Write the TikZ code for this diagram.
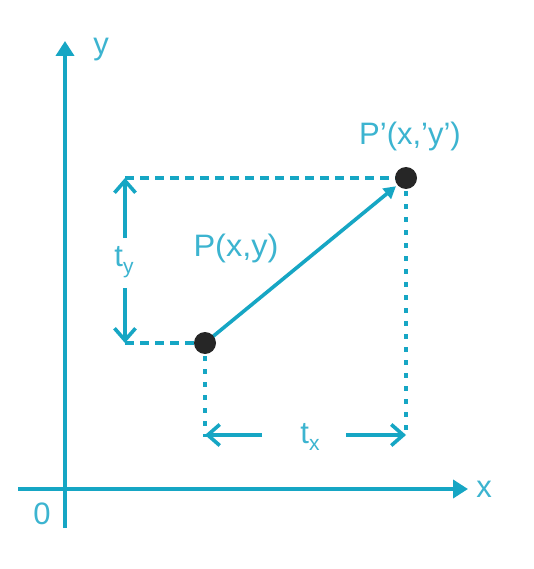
\documentclass[tikz,border=0pt]{standalone}
\usepackage{fontspec}
\setmainfont{Liberation Sans}
\usetikzlibrary{arrows.meta,calc}
\definecolor{cy}{RGB}{22,166,196}
\definecolor{cyt}{RGB}{60,180,208}
\begin{document}
\begin{tikzpicture}[x=1pt,y=-1pt,
  axis/.style={draw=cy,line width=4.4pt,-{Triangle[length=15pt,width=18pt]}},
  dashh/.style={draw=cy,line width=3.6pt,dash pattern=on 9pt off 6pt},
  dotv/.style={draw=cy,line width=3.6pt,dash pattern=on 5pt off 8pt},
  barb/.style={draw=cy,line width=3.6pt,-{Straight Barb[length=12pt,width=21pt,line width=3.6pt]}},
  lbl/.style={text=cyt,font=\fontsize{31}{31}\selectfont,inner sep=0pt},
  pt/.style={circle,fill=black!85,minimum size=22pt,inner sep=0pt}]
\useasboundingbox (0,0) rectangle (534,569);
\fill[white] (0,0) rectangle (534,569);
% axes
\coordinate (ybot) at (65,528);
\coordinate (ytop) at (65,41);
\coordinate (xl) at (18,489);
\coordinate (xr) at (468,489);
\draw[axis] (ybot) -- (ytop);
\draw[axis] (xl) -- (xr);
\node[lbl] (ylab) at (101,50) {y};
\node[lbl] (xlab) at (484,489) {x};
\node[lbl] (zero) at (42,514) {0};
% points
\coordinate (P) at (205,343);
\coordinate (Q) at (406,178);
\coordinate (tyTop) at (125,178);
\coordinate (tyBot) at (125,343);
\coordinate (Pd) at (205,437);
\coordinate (Qd) at (406,437);
\draw[dashh] (tyTop) -- (Q);
\draw[dashh] (tyBot) -- (P);
\draw[dotv] (P) -- (Pd);
\draw[dotv] (Q) -- (Qd);
% ty
\node[lbl] (ty) at (124,262) {t\raisebox{-7pt}{\fontsize{21}{21}\selectfont y}};
\coordinate (tyU) at (125,238);
\coordinate (tyD) at (125,288);
\draw[barb] (tyU) -- (tyTop);
\draw[barb] (tyD) -- (tyBot);
% tx
\node[lbl] (tx) at (310,437) {t\raisebox{-7pt}{\fontsize{21}{21}\selectfont x}};
\coordinate (txL) at (262,435);
\coordinate (txR) at (346,435);
\coordinate (txLe) at (205,435);
\coordinate (txRe) at (406,435);
\draw[barb] (txL) -- (txLe);
\draw[barb] (txR) -- (txRe);
% vector
\coordinate (Qa) at ($(P)!0.95!(Q)$);
\draw[draw=cy,line width=3.6pt,-{Triangle[length=12pt,width=13pt]}] (P) -- (Qa);
\node[pt] (Pn) at (P) {};
\node[pt] (Qn) at (Q) {};
\node[lbl,xscale=1.05] (Plab) at (236,248) {P(x,y)};
\node[lbl] (Qlab) at (410,136) {P’(x,’y’)};
\end{tikzpicture}
\end{document}
